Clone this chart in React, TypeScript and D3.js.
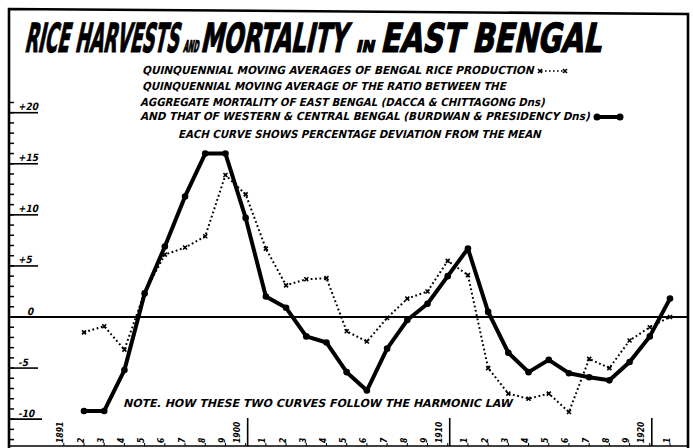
import React, { useLayoutEffect, useRef } from "react";
import * as d3 from "d3";

const years = [1892, 1893, 1894, 1895, 1896, 1897, 1898, 1899, 1900, 1901, 1902, 1903, 1904, 1905, 1906, 1907, 1908, 1909, 1910, 1911, 1912, 1913, 1914, 1915, 1916, 1917, 1918, 1919, 1920, 1921];
const mortality = [-9.2, -9.2, -5.2, 2.3, 6.9, 11.8, 16.0, 16.0, 9.7, 2.0, 0.9, -1.9, -2.5, -5.4, -7.2, -3.1, -0.3, 1.3, 4.0, 6.7, 0.5, -3.5, -5.4, -4.2, -5.5, -5.9, -6.2, -4.4, -1.9, 1.8];
const rice = [-1.5, -0.9, -3.2, 2.4, 6.1, 6.8, 7.9, 13.9, 12.0, 6.7, 3.1, 3.7, 3.8, -1.4, -2.4, -0.1, 1.8, 2.5, 5.5, 4.1, -5.0, -7.5, -8.0, -7.5, -9.3, -4.1, -5.0, -2.3, -1.0, 0.0];

const labelYears = [1891, 1892, 1893, 1894, 1895, 1896, 1897, 1898, 1899, 1900, 1901, 1902, 1903, 1904, 1905, 1906, 1907, 1908, 1909, 1910, 1911, 1912, 1913, 1914, 1915, 1916, 1917, 1918, 1919, 1920, 1921];
const yMajor = [20, 15, 10, 5, 0, -5, -10];
const yMajorLabels = ["+20", "+15", "+10", "+5", "0", "-5", "-10"];
const yMinor = [21, 20, 19, 18, 17, 16, 15, 14, 13, 12, 11, 10, 9, 8, 7, 6, 5, 4, 3, 2, 1, 0, -1, -2, -3, -4, -5, -6, -7, -8, -9, -10, -11, -12];

const title = ["RICE HARVESTS", "AND", "MORTALITY", "IN", "EAST BENGAL"];
const legendLines = [
  "QUINQUENNIAL MOVING AVERAGES OF BENGAL RICE PRODUCTION",
  "QUINQUENNIAL MOVING AVERAGE OF THE RATIO BETWEEN THE",
  "AGGREGATE MORTALITY OF EAST BENGAL (DACCA & CHITTAGONG Dns)",
  "AND THAT OF WESTERN & CENTRAL BENGAL (BURDWAN & PRESIDENCY Dns)",
  "EACH CURVE SHOWS PERCENTAGE DEVIATION FROM THE MEAN",
];
const note = "NOTE.  HOW THESE TWO CURVES FOLLOW THE HARMONIC LAW";

const W = 693;
const H = 448;
const FONT = "'DejaVu Sans Condensed', 'DejaVu Sans', sans-serif";

export default function App() {
  const ref = useRef<SVGSVGElement>(null);
  const x = d3.scaleLinear().domain([1892, 1921]).range([84, 670]);
  const y = d3.scaleLinear().domain([0, 20]).range([317, 112.7]);

  useLayoutEffect(() => {
    if (!ref.current) return;
    d3.select(ref.current)
      .selectAll<SVGTextElement, unknown>("text.fit")
      .each(function () {
        const el = this;
        el.removeAttribute("transform");
        const x0 = +el.getAttribute("data-x0")!;
        const x1 = +el.getAttribute("data-x1")!;
        const yb = +el.getAttribute("data-y")!;
        const sk = +(el.getAttribute("data-skew") || "12");
        const w = el.getComputedTextLength();
        const s = w > 0 ? (x1 - x0) / w : 1;
        el.setAttribute("transform", `translate(${x0},${yb}) skewX(${-sk}) scale(${s},1)`);
      });
  }, []);

  const solidLine = d3
    .line<number>()
    .x((_, i) => x(years[i]))
    .y((d) => y(d))(mortality) as string;
  const dotLine = d3
    .line<number>()
    .x((_, i) => x(years[i]))
    .y((d) => y(d))(rice) as string;

  const axisX = 9;
  const rightX = 688;

  const titleSpecs = [
    { x0: 24, x1: 178, size: 40, y: 52 },
    { x0: 183, x1: 198, size: 16, y: 52 },
    { x0: 200, x1: 346, size: 40, y: 52 },
    { x0: 356, x1: 374, size: 16, y: 52 },
    { x0: 380, x1: 601, size: 40, y: 52 },
  ];
  const legendSpecs = [
    { x0: 142, x1: 534, y: 74 },
    { x0: 142, x1: 506, y: 90 },
    { x0: 140, x1: 545, y: 106 },
    { x0: 140, x1: 590, y: 120 },
    { x0: 178, x1: 541, y: 138 },
  ];

  const cross = (cx: number, cy: number, s: number, key: string) => (
    <path
      key={key}
      d={`M${cx - s},${cy - s}L${cx + s},${cy + s}M${cx - s},${cy + s}L${cx + s},${cy - s}`}
      stroke="#000"
      strokeWidth={1.6}
    />
  );

  return (
    <svg
      ref={ref}
      width={W}
      height={H}
      style={{ position: "absolute", left: 0, top: 0, background: "#fff" }}
      fontFamily={FONT}
    >
      <rect x={0} y={0} width={W} height={H} fill="#fff" />
      {/* frame */}
      <path d={`M${axisX},448L${axisX},9L${rightX},14L${rightX},448`} fill="none" stroke="#000" strokeWidth={2.6} />
      <line x1={axisX} x2={rightX} y1={446} y2={446} stroke="#000" strokeWidth={1.5} />

      {/* title */}
      {title.map((t, i) => (
        <text
          key={t}
          className="fit"
          data-x0={titleSpecs[i].x0}
          data-x1={titleSpecs[i].x1}
          data-y={titleSpecs[i].y}
          data-skew={12}
          fontSize={titleSpecs[i].size}
          fontWeight="bold"
          stroke="#000"
          strokeWidth={1.2}
        >
          {t}
        </text>
      ))}

      {/* legend text */}
      {legendLines.map((t, i) => (
        <text
          key={i}
          className="fit"
          data-x0={legendSpecs[i].x0}
          data-x1={legendSpecs[i].x1}
          data-y={legendSpecs[i].y}
          data-skew={14}
          fontSize={11}
          fontWeight="bold"
        >
          {t}
        </text>
      ))}
      {/* legend markers */}
      <line x1={541} x2={564} y1={71} y2={71} stroke="#000" strokeWidth={1.6} strokeDasharray="1.6 2.4" />
      {cross(540, 71, 2, "lx1")}
      {cross(565, 71, 2, "lx2")}
      <line x1={597} x2={620} y1={117} y2={117} stroke="#000" strokeWidth={4} />
      <circle cx={597} cy={117} r={3.5} fill="#000" />
      <circle cx={620} cy={117} r={3.5} fill="#000" />

      {/* y axis ticks */}
      {yMinor.map((v) => (
        <line key={"m" + v} x1={axisX} x2={axisX + 5} y1={y(v)} y2={y(v)} stroke="#000" strokeWidth={1.5} />
      ))}
      {yMajor.map((v, i) => (
        <g key={"M" + v}>
          <line x1={axisX} x2={v === -10 ? 42 : 38} y1={y(v)} y2={y(v)} stroke="#000" strokeWidth={1.6} />
          <text
            transform={`translate(${v === 0 ? 27 : 18},${y(v) - 2.5}) skewX(-12)`}
            fontSize={10}
            fontWeight="bold"
          >
            {yMajorLabels[i]}
          </text>
        </g>
      ))}

      {/* zero line */}
      <line x1={axisX} x2={rightX} y1={y(0)} y2={y(0)} stroke="#000" strokeWidth={1.8} />

      {/* x labels */}
      {labelYears.map((yr) => {
        const decade = yr % 10 === 0 || yr === 1891;
        const lbl = decade ? String(yr) : String(yr % 10);
        const lx = decade && yr !== 1891 ? x(yr) - 8 : x(yr) - 3;
        return (
          <g key={"yl" + yr}>
            <text
              transform={`translate(${lx},${443}) rotate(-90)`}
              x={0}
              y={0}
              fontSize={8.5}
              fontWeight="bold"
              fontStyle="italic"
              dominantBaseline="middle"
            >
              {lbl}
            </text>
            <line x1={x(yr)} x2={x(yr)} y1={446} y2={443} stroke="#000" strokeWidth={1} />
            {yr % 10 === 0 ? (
              <line x1={x(yr) + 2} x2={x(yr) + 2} y1={418} y2={446} stroke="#000" strokeWidth={1.6} />
            ) : null}
          </g>
        );
      })}

      {/* note */}
      <text className="fit" data-x0={123} data-x1={512} data-y={407} data-skew={14} fontSize={11} fontWeight="bold">
        {note}
      </text>

      {/* rice dotted line */}
      <path d={dotLine} fill="none" stroke="#000" strokeWidth={2} strokeDasharray="1.8 2.6" />
      {rice.map((v, i) => cross(x(years[i]), y(v), 2, "rx" + i))}

      {/* mortality solid line */}
      <path d={solidLine} fill="none" stroke="#000" strokeWidth={4} strokeLinejoin="round" />
      {mortality.map((v, i) => (
        <circle key={"mc" + i} cx={x(years[i])} cy={y(v)} r={3.3} fill="#000" />
      ))}
    </svg>
  );
}
